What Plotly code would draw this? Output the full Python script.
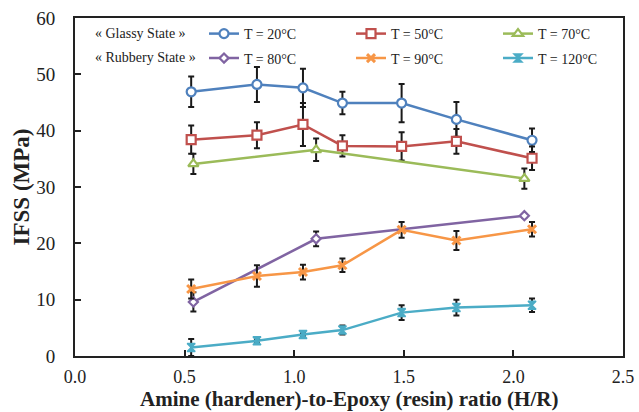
import plotly.graph_objects as go

# ---- data ----
x7 = [0.53, 0.83, 1.04, 1.22, 1.49, 1.74, 2.085]
x3 = [0.54, 1.10, 2.05]

y20 = [46.9, 48.2, 47.6, 44.9, 44.9, 42.0, 38.3]
e20 = [2.7, 3.1, 3.4, 2.0, 3.4, 3.1, 2.1]
y50 = [38.4, 39.2, 41.1, 37.3, 37.2, 38.1, 35.1]
e50 = [2.5, 2.3, 3.8, 1.9, 2.5, 2.2, 2.1]
y70 = [34.1, 36.6, 31.5]
e70 = [1.8, 2.0, 1.8]
y80 = [9.6, 20.8, 24.9]
e80 = [1.7, 1.3, 0.3]
y90 = [11.9, 14.2, 14.9, 16.1, 22.4, 20.5, 22.5]
e90 = [1.7, 1.9, 1.3, 1.2, 1.4, 1.7, 1.3]
y120 = [1.5, 2.7, 3.8, 4.6, 7.7, 8.6, 9.0]
e120 = [1.5, 0.3, 0.3, 0.8, 1.3, 1.4, 1.2]

names = ["T = 20°C", "T = 50°C", "T = 70°C", "T = 80°C", "T = 90°C", "T = 120°C"]
row_labels = ["« Glassy State »", "« Rubbery State »"]
xticks = [0.0, 0.5, 1.0, 1.5, 2.0, 2.5]
yticks = [0, 10, 20, 30, 40, 50, 60]
x_title = "<b>Amine (hardener)-to-Epoxy (resin) ratio (H/R)</b>"
y_title = "<b>IFSS (MPa)</b>"

FONT = "Liberation Serif"
ERR = "#1a1a1a"

series = [
    (x7, y20, e20, names[0], "#4F81BD", dict(symbol="circle", size=9, color="white", line=dict(color="#4F81BD", width=2.2)), "legend", 102),
    (x7, y50, e50, names[1], "#C0504D", dict(symbol="square", size=9, color="white", line=dict(color="#C0504D", width=2.2)), "legend", 102),
    (x3, y70, e70, names[2], "#9BBB59", dict(symbol="triangle-up", size=9, color="white", line=dict(color="#9BBB59", width=2.2)), "legend", 60),
    (x3, y80, e80, names[3], "#8064A2", dict(symbol="diamond", size=7, color="white", line=dict(color="#8064A2", width=2.2)), "legend2", 102),
    (x7, y90, e90, names[4], "#F79646", dict(symbol="x-thin", size=8, color="#F79646", line=dict(color="#F79646", width=3)), "legend2", 102),
    (x7, y120, e120, names[5], "#4BACC6", dict(symbol="hourglass", size=8, color="#4BACC6", line=dict(color="#4BACC6", width=1.5)), "legend2", 60),
]

fig = go.Figure()
for xs, ys, es, nm, col, mk, lg, lw in series:
    fig.add_trace(go.Scatter(
        x=xs, y=ys, name=nm, mode="lines+markers",
        line=dict(color=col, width=2.5),
        marker=mk,
        error_y=dict(type="data", array=es, visible=True, color=ERR, thickness=2, width=3),
        legend=lg, legendwidth=lw,
    ))

W, H = 639, 412
ml, mr, mt, mb = 75, 16, 18, 56
pw, ph = W - ml - mr, H - mt - mb

def px_x(px):
    return (px - ml) / pw

def px_y(py):
    return 1 - (py - mt) / ph

legend_common = dict(
    orientation="h", xanchor="left", yanchor="top",
    font=dict(family=FONT, size=14, color="#222"),
    bgcolor="rgba(0,0,0,0)", borderwidth=0, itemwidth=30,
    tracegroupgap=0,
)

fig.update_layout(
    template="none",
    width=W, height=H,
    margin=dict(l=ml, r=mr, t=mt, b=mb, autoexpand=False),
    paper_bgcolor="white", plot_bgcolor="white",
    font=dict(family=FONT, color="#222"),
    legend=dict(x=px_x(204), y=px_y(18), **legend_common),
    legend2=dict(x=px_x(204), y=px_y(42.5), **legend_common),
    showlegend=True,
)

for lab, py in zip(row_labels, [33, 58]):
    fig.add_annotation(text=lab, xref="paper", yref="paper", x=px_x(93), y=px_y(py),
                       xanchor="left", yanchor="middle", showarrow=False,
                       font=dict(family=FONT, size=14, color="#222"))

# x-axis title as annotation, anchored to the bottom edge
fig.add_annotation(text=x_title, xref="paper", yref="paper", x=0.5, y=px_y(412),
                   xanchor="center", yanchor="bottom", showarrow=False, borderpad=0,
                   font=dict(family=FONT, size=21, color="#222"))

fig.update_xaxes(
    range=[0, 2.5], tickvals=xticks, tickformat=".1f",
    showgrid=False, zeroline=False, automargin=False,
    showline=True, linecolor="#222", linewidth=2, mirror=True,
    ticks="inside", ticklen=6, tickwidth=1.5, tickcolor="#222",
    tickfont=dict(family=FONT, size=18, color="#222"), ticklabelstandoff=3,
)
fig.update_yaxes(
    range=[0, 60], tickvals=yticks,
    showgrid=False, zeroline=False, automargin=False,
    showline=True, linecolor="#222", linewidth=2, mirror=True,
    ticks="inside", ticklen=6, tickwidth=1.5, tickcolor="#222",
    tickfont=dict(family=FONT, size=19, color="#222"), ticklabelstandoff=14,
    title=dict(text=y_title, font=dict(family=FONT, size=23, color="#222"), standoff=0),
)

fig.write_html("out.html",
               config={"displayModeBar": False},
               post_script="document.body.style.margin='0';document.body.style.padding='0';")
